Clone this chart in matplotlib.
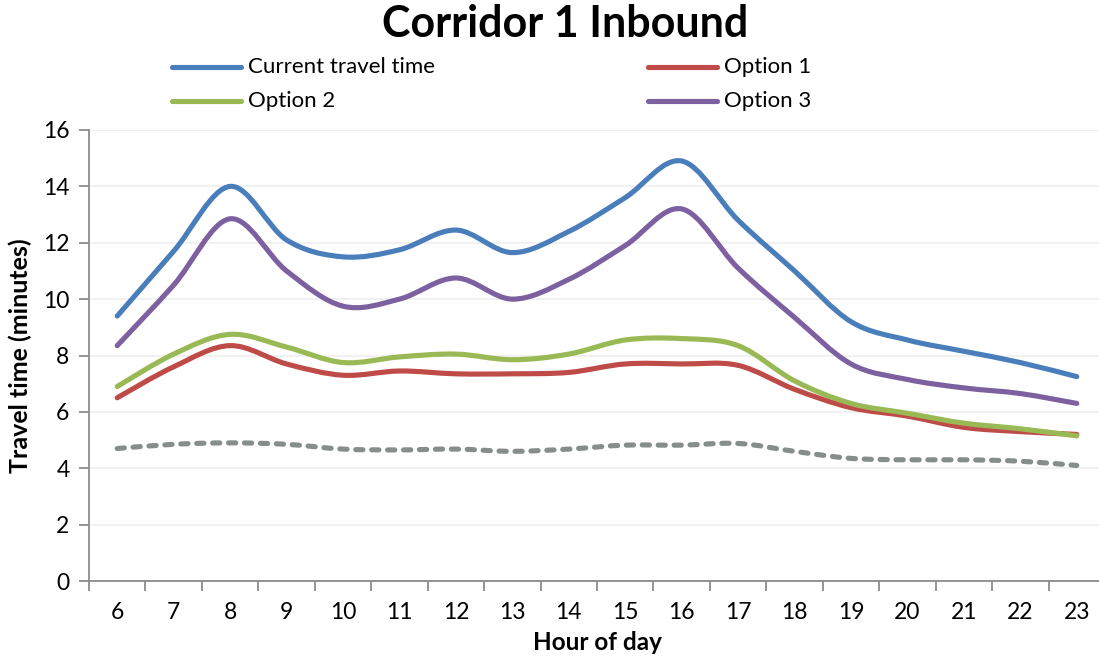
import matplotlib
matplotlib.use("Agg")
import matplotlib.pyplot as plt
from matplotlib.path import Path
from matplotlib.patches import PathPatch
from matplotlib.lines import Line2D
import numpy as np

hours = [6, 7, 8, 9, 10, 11, 12, 13, 14, 15, 16, 17, 18, 19, 20, 21, 22, 23]
current = [9.4, 11.7, 14.0, 12.1, 11.5, 11.75, 12.45, 11.65, 12.4, 13.6, 14.9, 12.8, 11.0, 9.2, 8.55, 8.15, 7.75, 7.25]
option1 = [6.5, 7.6, 8.35, 7.7, 7.3, 7.45, 7.35, 7.35, 7.4, 7.7, 7.7, 7.65, 6.8, 6.15, 5.85, 5.45, 5.3, 5.2]
option2 = [6.9, 8.05, 8.75, 8.3, 7.75, 7.95, 8.05, 7.85, 8.05, 8.55, 8.6, 8.35, 7.1, 6.3, 5.95, 5.6, 5.4, 5.15]
option3 = [8.35, 10.5, 12.85, 11.0, 9.75, 10.0, 10.75, 10.0, 10.7, 11.9, 13.2, 11.1, 9.35, 7.7, 7.15, 6.85, 6.65, 6.3]
freeflow = [4.7, 4.85, 4.9, 4.85, 4.68, 4.65, 4.68, 4.6, 4.68, 4.82, 4.82, 4.88, 4.6, 4.35, 4.3, 4.3, 4.25, 4.1]

series_labels = ["Current travel time", "Option 1", "Option 2", "Option 3"]
colors = ["#4A7EBB", "#BE4B48", "#98B954", "#7D60A0"]
gray = "#868D8A"
yticks = [0, 2, 4, 6, 8, 10, 12, 14, 16]

plt.rcParams['font.family'] = ['Lato', 'DejaVu Sans']

fig = plt.figure(figsize=(10.99, 6.59), dpi=100)
L, R, B, T = 89 / 1099, 1105 / 1099, 1 - 581 / 659, 1 - 130 / 659
ax = fig.add_axes([L, B, R - L, T - B])


def smooth_path(xs, ys):
    pts = np.column_stack([xs, ys]).astype(float)
    n = len(pts)
    verts = [pts[0]]
    codes = [Path.MOVETO]
    for i in range(n - 1):
        p0 = pts[i - 1] if i > 0 else pts[i]
        p1 = pts[i]
        p2 = pts[i + 1]
        p3 = pts[i + 2] if i + 2 < n else pts[i + 1]
        c1 = p1 + (p2 - p0) / 6.0
        c2 = p2 - (p3 - p1) / 6.0
        verts += [c1, c2, p2]
        codes += [Path.CURVE4] * 3
    return Path(verts, codes)


x = np.arange(len(hours))
lw = 3.7

ax.add_patch(PathPatch(smooth_path(x, freeflow), fill=False, edgecolor=gray,
                       lw=lw, linestyle=(0, (1.4, 1.7)), capstyle='round', joinstyle='round'))
for vals, c in zip([current, option1, option2, option3], colors):
    ax.add_patch(PathPatch(smooth_path(x, vals), fill=False, edgecolor=c,
                           lw=lw, capstyle='round', joinstyle='round'))

ax.set_xlim(-0.5, len(hours) - 0.5)
ax.set_ylim(0, 16)
ax.set_yticks(yticks)
ax.set_yticklabels([str(v) for v in yticks], fontsize=16.5)
ax.set_xticks(x)
ax.set_xticklabels([str(h) for h in hours], fontsize=16.5)
ax.set_xticks(np.arange(-0.5, len(hours), 1.0), minor=True)
ax.tick_params(axis='x', which='major', length=0, pad=15)
ax.tick_params(axis='x', which='minor', length=7, width=1.3, color='#8C8C8C', direction='out')
ax.tick_params(axis='y', which='major', length=7, width=1.3, color='#8C8C8C', direction='out', pad=7)
ax.grid(axis='y', color='#F0F0F0', lw=1.3)
ax.set_axisbelow(True)
for s in ['top', 'right']:
    ax.spines[s].set_visible(False)
for s in ['left', 'bottom']:
    ax.spines[s].set_color('#8C8C8C')
    ax.spines[s].set_linewidth(1.3)

ax.set_ylabel("Travel time (minutes)", fontsize=18, fontweight='bold', labelpad=8)
fig.text(597 / 1099, 1 - 643 / 659, "Hour of day", fontsize=17.5, fontweight='bold',
         ha='center', va='center')
fig.text(565 / 1099, 1 - 24 / 659, "Corridor 1 Inbound", fontsize=31, fontweight='bold',
         ha='center', va='center')

leg_pos = [(172, 67), (648, 67), (172, 101), (648, 101)]
for (px, py), lab, c in zip(leg_pos, series_labels, colors):
    fy = 1 - py / 659
    fig.add_artist(Line2D([px / 1099, (px + 69) / 1099], [fy, fy], transform=fig.transFigure,
                          color=c, lw=lw, solid_capstyle='round'))
    fig.text((px + 76) / 1099, fy, lab, fontsize=16, ha='left', va='center')

fig.savefig("out.png", dpi=100)
